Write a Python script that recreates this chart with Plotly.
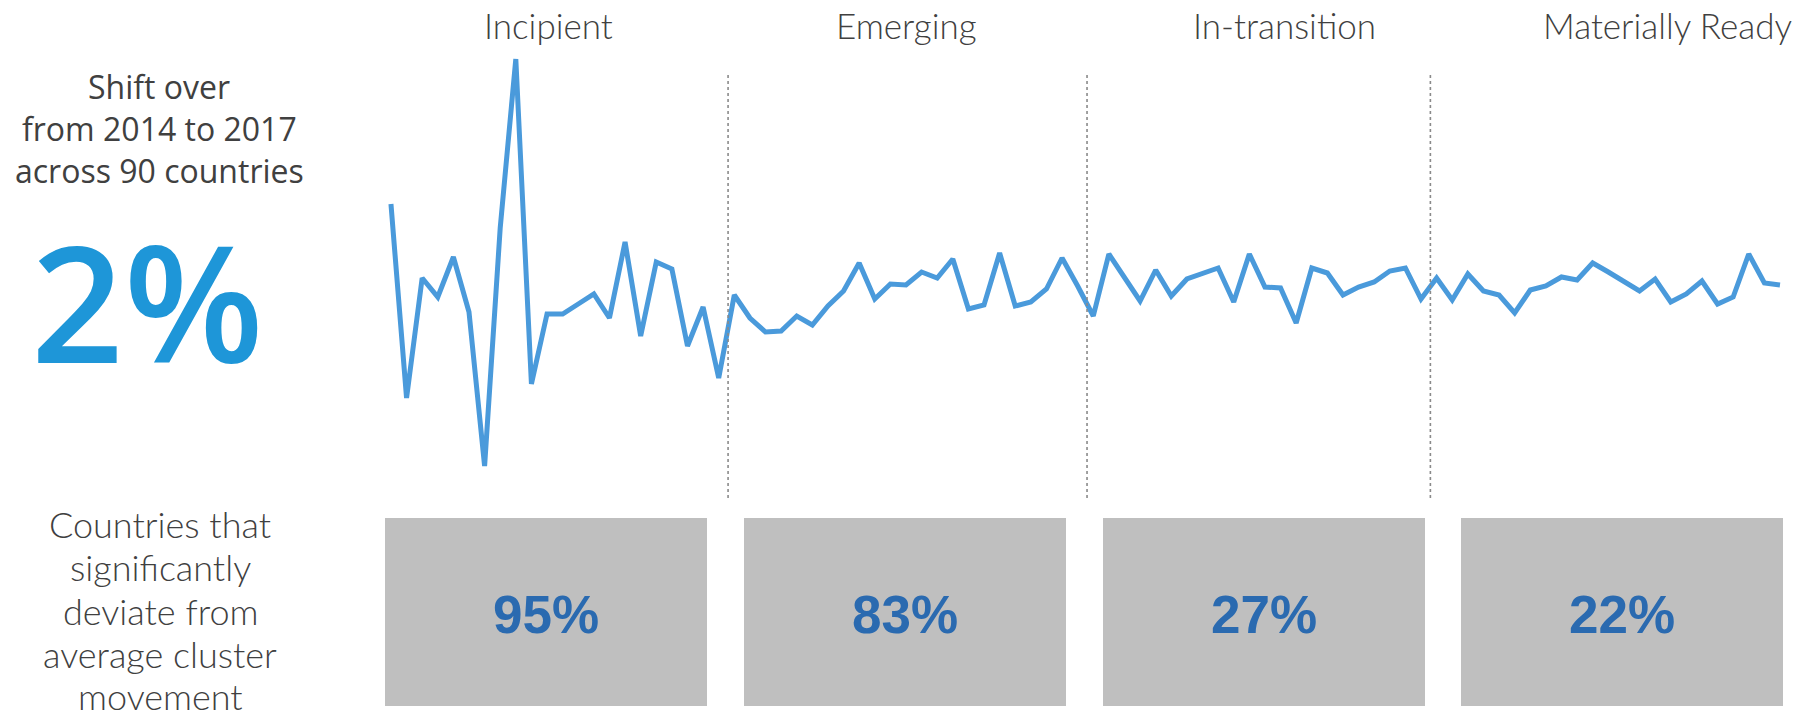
import plotly.graph_objects as go

# ---------------- data ----------------
clusters = ["Incipient", "Emerging", "In-transition", "Materially Ready"]
cluster_sizes = [22, 23, 22, 23]          # countries per cluster (90 in total)
deviate_pct = ["95%", "83%", "27%", "22%"]
headline_shift = "2%"
headline_lines = ["Shift over", "from 2014 to 2017", "across 90 countries"]
deviate_lines = ["Countries that", "significantly", "deviate from",
                 "average cluster", "movement"]

# shift per country (arbitrary units), ordered by cluster
shift_incipient = [27.6, 8.2, 20.2, 18.3, 22.3, 16.8, 1.4, 25.2, 42.1, 9.6, 16.6,
                   16.6, 17.6, 18.6, 16.2, 23.8, 14.4, 21.8, 21.1, 13.4, 17.3, 10.2]
shift_emerging = [18.5, 16.2, 14.8, 14.9, 16.4, 15.5, 17.4, 18.9, 21.7, 18.1, 19.6, 19.5,
                  20.8, 20.2, 22.1, 17.1, 17.5, 22.7, 17.4, 17.8, 19.1, 22.2, 19.4]
shift_transition = [16.4, 22.6, 20.3, 17.9, 21.0, 18.4, 20.1, 20.7, 21.2, 17.8, 22.6,
                    19.3, 19.2, 15.7, 21.2, 20.7, 18.5, 19.3, 19.8, 20.9, 21.2, 18.1]
shift_ready = [20.2, 18.0, 20.6, 18.9, 18.5, 16.7, 19.0, 19.4, 20.3, 20.0, 21.7, 20.8,
               19.8, 18.9, 20.1, 17.8, 18.6, 19.9, 17.6, 18.3, 22.6, 19.7, 19.5]

shift_all = shift_incipient + shift_emerging + shift_transition + shift_ready
country_idx = list(range(1, len(shift_all) + 1))

# ---------------- figure ----------------
W, H = 1814, 720
TEXT = "#404040"
LINE = "#4A9ADB"

fig = go.Figure()
fig.add_trace(go.Scatter(
    x=country_idx, y=shift_all, mode="lines",
    line=dict(color=LINE, width=5, shape="linear"),
    hoverinfo="skip", showlegend=False,
))

def px_x(p):
    return p / W

def px_y(p):
    return 1 - p / H

shapes = []
# dotted dividers between clusters
bounds = []
acc = 0
for n in cluster_sizes[:-1]:
    acc += n
    bounds.append(acc + 0.6)
for b in bounds:
    shapes.append(dict(type="line", xref="x", yref="paper", x0=b, x1=b,
                       y0=px_y(75), y1=px_y(498),
                       line=dict(color="#8a8a8a", width=1.6, dash="dot")))

# grey boxes
box_left = [385, 744, 1103, 1461]
box_w = 322
annotations = []
for i, (name, pct) in enumerate(zip(clusters, deviate_pct)):
    x0 = box_left[i]
    shapes.append(dict(type="rect", xref="paper", yref="paper",
                       x0=px_x(x0), x1=px_x(x0 + box_w),
                       y0=px_y(706), y1=px_y(518),
                       fillcolor="#BFBFBF", line=dict(width=0), layer="below"))
    annotations.append(dict(text=f"<b>{pct}</b>", xref="paper", yref="paper",
                            x=px_x(x0 + box_w / 2), y=px_y(614),
                            xanchor="center", yanchor="middle", showarrow=False,
                            font=dict(family="Liberation Sans, Arial", size=53,
                                      color="#2A6AB0")))

# cluster titles
title_x = [548, 906, 1284, 1667]
for name, tx in zip(clusters, title_x):
    annotations.append(dict(text=name, xref="paper", yref="paper",
                            x=px_x(tx), y=px_y(25), xanchor="center",
                            yanchor="middle", showarrow=False, borderpad=0,
                            font=dict(family="Lato", size=35, color=TEXT,
                                      weight=300)))

# left column texts
for line, ly in zip(headline_lines, [86, 128, 170]):
    annotations.append(dict(text=line, xref="paper", yref="paper",
                            x=px_x(159), y=px_y(ly), xanchor="center",
                            yanchor="middle", showarrow=False, borderpad=0,
                            font=dict(family="Open Sans", size=32, color=TEXT)))
annotations.append(dict(text=headline_shift, xref="paper", yref="paper",
                        x=px_x(147), y=px_y(300), xanchor="center",
                        yanchor="middle", showarrow=False, borderpad=0,
                        font=dict(family="Open Sans", size=162, color="#1E96D8",
                                  weight=600)))
for line, ly in zip(deviate_lines, [524, 567, 611, 654, 696]):
    annotations.append(dict(text=line, xref="paper", yref="paper",
                            x=px_x(160), y=px_y(ly), xanchor="center",
                            yanchor="middle", showarrow=False, borderpad=0,
                            font=dict(family="Lato", size=36, color=TEXT,
                                      weight=300)))

fig.update_layout(
    width=W, height=H,
    margin=dict(l=0, r=0, t=0, b=0),
    paper_bgcolor="white", plot_bgcolor="white",
    xaxis=dict(range=[-24.05, 92.18], visible=False, fixedrange=True),
    yaxis=dict(range=[-24, 48], visible=False, fixedrange=True),
    shapes=shapes, annotations=annotations,
)

fig.write_html("out.html", config={"displayModeBar": False},
               post_script="document.body.style.margin='0px';")
